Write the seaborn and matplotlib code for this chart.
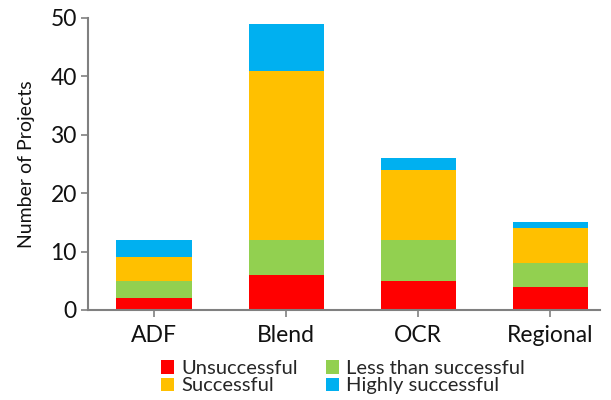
import matplotlib
matplotlib.use("Agg")
import matplotlib.pyplot as plt
from matplotlib.patches import Patch
import numpy as np
import pandas as pd
import seaborn as sns

categories = ["ADF", "Blend", "OCR", "Regional"]
unsuccessful = [2, 6, 5, 4]
less_than_successful = [3, 6, 7, 4]
successful = [4, 29, 12, 6]
highly_successful = [3, 8, 2, 1]

series_names = ["Unsuccessful", "Less than successful", "Successful", "Highly successful"]
series_colors = ["#ff0000", "#92d050", "#ffc000", "#00b0f0"]

sns.set_theme(style="white")
plt.rcParams["font.family"] = ["Lato", "DejaVu Sans"]

stack = np.cumsum(np.array([unsuccessful, less_than_successful, successful, highly_successful]), axis=0)

fig = plt.figure(figsize=(6.11, 4.0), dpi=100)
ax = fig.add_axes([0.144, 0.225, 0.838, 0.73])

# Stacked bars: draw cumulative totals from the top segment down
for level in range(3, -1, -1):
    df = pd.DataFrame({"category": categories, "value": stack[level]})
    sns.barplot(data=df, x="category", y="value", color=series_colors[level],
                saturation=1, width=0.57, linewidth=0, ax=ax, order=categories)

ax.set_ylim(0, 50)
ax.set_xlim(-0.5, 3.375)
ax.set_yticks([0, 10, 20, 30, 40, 50])
ax.set_xlabel("")
ax.set_ylabel("Number of Projects", fontsize=14, color="#111111", labelpad=11)

for side in ["top", "right"]:
    ax.spines[side].set_visible(False)
for side in ["left", "bottom"]:
    ax.spines[side].set_color("#808080")
    ax.spines[side].set_linewidth(1.5)

ax.tick_params(axis="y", which="major", direction="out", length=5, width=1.2,
               color="#808080", labelsize=16.5, labelcolor="#111111", left=True, pad=3)
ax.tick_params(axis="x", which="major", direction="out", length=5, width=1.2,
               color="#808080", labelsize=16.5, labelcolor="#111111", bottom=True, pad=6)

handles = [Patch(facecolor=c, edgecolor="none", label=n) for c, n in zip(series_colors, series_names)]
order = [0, 2, 1, 3]
fig.legend([handles[i] for i in order], [series_names[i] for i in order],
           loc="lower center", bbox_to_anchor=(0.561, -0.006), ncol=2, frameon=False,
           fontsize=14.5, handlelength=0.65, handleheight=0.65, handletextpad=0.35,
           columnspacing=1.4, labelspacing=0.02, borderaxespad=0)

fig.savefig("out.png", dpi=100)
